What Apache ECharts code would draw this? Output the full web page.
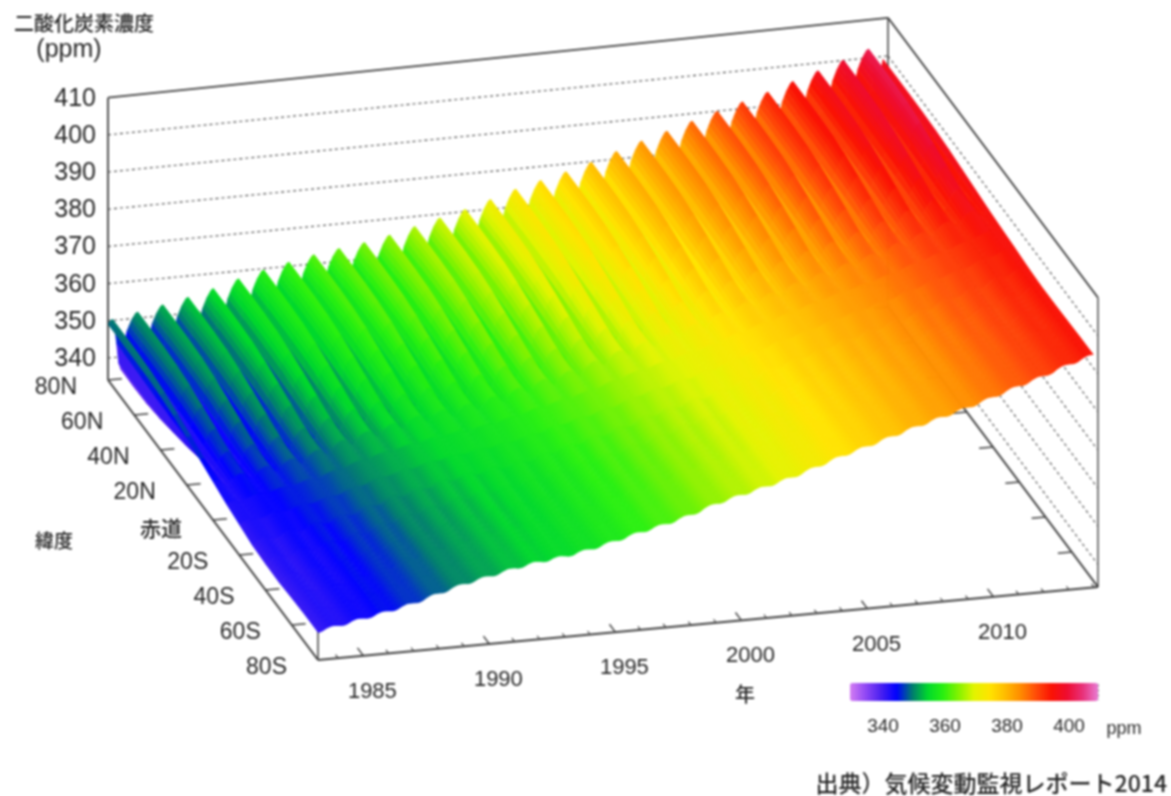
<!DOCTYPE html>
<html lang="ja">
<head>
<meta charset="utf-8">
<title>二酸化炭素濃度</title>
<script src="https://cdn.jsdelivr.net/npm/echarts@6/dist/echarts.min.js"></script>
<style>
html,body{margin:0;padding:0;background:#fff}
#c{width:1171px;height:796px;filter:blur(0.8px)}
</style>
</head>
<body>
<div id="c"></div>
<script>
// ---------- data ----------
// Baseline CO2 (ppm) at 1 January of each year, read along the 80S edge
const baseYears = [1983,1984,1985,1986,1987,1988,1989,1990,1991,1992,1993,1994,1995,1996,1997,1998,1999,2000,2001,2002,2003,2004,2005,2006,2007,2008,2009,2010,2011,2012,2013,2014];
const basePpm = [341.6,342.9,344.2,345.5,347.0,349.0,350.9,352.3,353.8,354.9,355.7,356.9,358.5,360.2,361.7,363.5,365.8,367.5,369.1,370.8,373.0,375.2,377.1,379.1,381.1,382.9,384.7,386.8,389.0,391.0,393.4,395.3];
const gridLats = [80,70,60,50,40,30,20,10,0,-10,-20,-30,-40,-50,-60,-70,-80];
// Monthly (Jan..Dec) departure from the baseline at each latitude
const lat80N = [5.2,6.4,7.2,8.0,8.2,6.5,1.5,-4.0,-5.8,-2.0,1.8,4.0];
const lat70N = [5.2,6.4,7.2,8.0,8.2,6.4,1.4,-4.2,-5.9,-2.0,1.8,4.0];
const lat60N = [5.2,6.4,7.2,7.9,8.1,6.2,1.2,-4.2,-5.7,-2.0,1.8,4.0];
const lat50N = [5.1,6.3,7.1,7.8,7.8,5.8,1.0,-3.8,-5.0,-1.9,1.8,3.9];
const lat40N = [4.9,5.9,6.7,7.3,7.1,5.0,0.9,-2.9,-4.0,-1.6,1.7,3.7];
const lat30N = [4.4,5.3,5.9,6.3,6.0,4.2,1.0,-1.8,-2.9,-1.2,1.5,3.3];
const lat20N = [3.7,4.4,4.9,5.1,4.8,3.4,1.3,-0.6,-1.6,-0.6,1.2,2.7];
const lat10N = [2.9,3.4,3.7,3.8,3.5,2.7,1.5,0.4,-0.5,-0.1,1.0,2.1];
const lat00 = [2.0,2.3,2.5,2.6,2.4,2.0,1.5,1.0,0.5,0.4,0.9,1.5];
const lat10S = [1.1,1.2,1.3,1.4,1.4,1.4,1.3,1.1,0.9,0.7,0.8,1.0];
const lat20S = [0.4,0.3,0.4,0.5,0.7,0.8,0.9,1.0,0.9,0.8,0.7,0.6];
const lat30S = [-0.2,-0.5,-0.5,-0.3,0.0,0.3,0.5,0.7,0.8,0.7,0.4,0.1];
const lat40S = [-0.5,-0.8,-0.8,-0.6,-0.3,0.0,0.3,0.5,0.6,0.5,0.2,-0.2];
const lat50S = [-0.5,-0.8,-0.9,-0.8,-0.5,-0.2,0.1,0.3,0.4,0.4,0.1,-0.2];
const lat60S = [-0.3,-0.5,-0.6,-0.6,-0.4,-0.2,0.0,0.2,0.3,0.3,0.1,-0.1];
const lat70S = [-0.2,-0.35,-0.4,-0.4,-0.3,-0.1,0.0,0.2,0.3,0.3,0.1,0.0];
const lat80S = [-0.1,-0.3,-0.4,-0.4,-0.3,-0.1,0.1,0.2,0.3,0.3,0.2,0.05];
const departures = [lat80N,lat70N,lat60N,lat50N,lat40N,lat30N,lat20N,lat10N,lat00,lat10S,lat20S,lat30S,lat40S,lat50S,lat60S,lat70S,lat80S];

const zTicks = [340,350,360,370,380,390,400,410];
const yearTickLabels = [1985,1990,1995,2000,2005,2010];
const latTicks = [80,60,40,20,0,-20,-40,-60,-80];
const latTickLabels = ['80N','60N','40N','20N','赤道','20S','40S','60S','80S'];
const legendTicks = [340,350,360,370,380,390,400,410];
const legendLabels = [340,360,380,400];
const legendColors = ['#d47df2','#9048f4','#4a20f0','#0000ff','#007a70','#00d82c','#28f010','#84f200','#e2f400','#ffe400','#ffbc00','#ff8c00','#ff4c08','#fa1204','#ee0c30','#e83078','#e87cd4'];

// ---------- oblique view of the box ----------
const yearMin = 1983.2, yearMax = 2014.15, ppmMin = 334.1, ppmMax = 410;
const legendMin = 330, legendMax = 410;
function project(year, lat, ppm) {
  const fy = (year - yearMin) / (yearMax - yearMin);
  const fl = (80 - lat) / 160;
  return [108 + 780 * fy + 210 * fl,
          380 - 73 * fy + 280 * fl - (3.72 + 0.09 * fy) * (ppm - ppmMin)];
}

// ---------- surface grid: March 1983 .. February 2014 ----------
const times = [], ppmGrid = gridLats.map(() => []);
for (let k = 0; k < 372; k++) {
  const mm = k + 2, yi = Math.floor(mm / 12), m = mm % 12;
  times.push(baseYears[yi] + (m + 0.5) / 12);
  const b = basePpm[yi] + (basePpm[yi + 1] - basePpm[yi]) * (m + 0.5) / 12;
  gridLats.forEach((_, li) => ppmGrid[li].push(b + departures[li][m]));
}
const cells = [];
for (let li = 0; li < gridLats.length - 1; li++) {
  for (let k = times.length - 2; k >= 0; k--) {
    cells.push([k, li, (ppmGrid[li][k] + ppmGrid[li][k + 1] + ppmGrid[li + 1][k] + ppmGrid[li + 1][k + 1]) / 4]);
  }
}

const LINE = '#3f3f3f', DASH = '#4a4a4a', TEXT = '#262626';
const LATIN = '"Liberation Sans", Arial, sans-serif';
const CJK = '"Noto Sans CJK JP", sans-serif';

function seg(api, a, b, stroke, width, dash) {
  const p = api.coord(a), q = api.coord(b);
  return { type: 'line', shape: { x1: p[0], y1: p[1], x2: q[0], y2: q[1] },
           style: { stroke, lineWidth: width, lineDash: dash || null }, silent: true };
}
function txt(api, pos, dx, dy, text, font, align) {
  const p = api.coord(pos);
  return { type: 'text', silent: true,
           style: { text, x: p[0] + dx, y: p[1] + dy, fill: TEXT, font, align: align || 'center', verticalAlign: 'middle' } };
}

function renderFrame(params, api) {
  const ch = [];
  const P = project;
  zTicks.forEach(z => {
    if (z < ppmMax) {
      ch.push(seg(api, P(yearMin, 80, z), P(yearMax, 80, z), DASH, 1.1, [3, 3]));
      ch.push(seg(api, P(yearMax, 80, z), P(yearMax, -80, z), DASH, 1.1, [3, 3]));
    }
  });
  ch.push(seg(api, P(yearMin, 80, ppmMin), P(yearMin, 80, ppmMax), LINE, 1.8));
  ch.push(seg(api, P(yearMin, 80, ppmMax), P(yearMax, 80, ppmMax), LINE, 1.8));
  ch.push(seg(api, P(yearMax, 80, ppmMax), P(yearMax, -80, ppmMax), LINE, 1.8));
  ch.push(seg(api, P(yearMax, 80, ppmMin), P(yearMax, 80, ppmMax), LINE, 1.5));
  ch.push(seg(api, P(yearMax, -80, ppmMin), P(yearMax, -80, ppmMax), '#6a6a6a', 1.8));
  ch.push(seg(api, P(yearMin, 80, ppmMin), P(yearMin, -80, ppmMin), LINE, 2));
  ch.push(seg(api, P(yearMax, 80, ppmMin), P(yearMax, -80, ppmMin), LINE, 2));
  ch.push(seg(api, P(yearMin, -80, ppmMin), P(yearMax, -80, ppmMin), LINE, 1.8));
  ch.push(seg(api, P(yearMin, -80, ppmMin), P(yearMin, -80, 342), LINE, 1.5));
  latTicks.forEach(l => {
    if (l > -80) {
      ch.push(seg(api, P(yearMin, l, ppmMin), P(yearMin + 0.55, l, ppmMin), LINE, 1.6));
      ch.push(seg(api, P(yearMax, l, ppmMin), P(yearMax - 0.55, l, ppmMin), LINE, 1.6));
    }
  });
  for (let y = 1984; y <= 2014; y++) {
    const major = y % 5 === 0;
    ch.push(seg(api, P(y, -80, ppmMin), P(y, major ? -75.5 : -78, ppmMin), LINE, major ? 1.4 : 1.1));
  }
  legendTicks.forEach(v => {
    const x = 850 + (v - legendMin) / (legendMax - legendMin) * 248;
    ch.push({ type: 'line', silent: true, shape: { x1: x, y1: 684, x2: x, y2: 700 },
              style: { stroke: 'rgba(30,30,30,0.65)', lineWidth: 1.2, lineDash: v === 370 || v === 410 ? [3, 2] : null } });
  });
  return { type: 'group', children: ch };
}

function renderSurface(params, api) {
  const k = api.value(0), li = api.value(1);
  const corners = [[k, li], [k + 1, li], [k + 1, li + 1], [k, li + 1]];
  const pts = corners.map(c => api.coord(project(times[c[0]], gridLats[c[1]], ppmGrid[c[1]][c[0]])));
  const color = api.visual('color');
  return { type: 'polygon', silent: true, shape: { points: pts },
           style: { fill: color, stroke: color, lineWidth: 0.7 } };
}

function renderLabels(params, api) {
  const ch = [];
  const P = project;
  zTicks.forEach(z => ch.push(txt(api, P(yearMin, 80, z), -12, 1, String(z), '25px ' + LATIN, 'right')));
  latTicks.forEach((l, i) => {
    const f = i === 4 ? '500 21px ' + CJK : '23px ' + LATIN;
    ch.push(txt(api, P(yearMin, l, ppmMin), -31, 8, latTickLabels[i], f, 'right'));
  });
  yearTickLabels.forEach(y => ch.push(txt(api, P(y, -80, ppmMin), 9, 36, String(y), '22px ' + LATIN)));
  legendLabels.forEach(v => {
    const x = 850 + (v - legendMin) / (legendMax - legendMin) * 248;
    ch.push(txt(api, [x + 2, 727], 0, 0, String(v), '19px ' + LATIN));
  });
  ch.push(txt(api, [1124, 729], 0, 0, 'ppm', '18px ' + LATIN));
  ch.push(txt(api, [84, 23], 0, 0, '二酸化炭素濃度', '500 20px ' + CJK));
  ch.push(txt(api, [69, 50], 0, 0, '(ppm)', '25px ' + LATIN));
  ch.push(txt(api, [54, 541], 0, 0, '緯度', '500 19px ' + CJK));
  ch.push(txt(api, [745, 694], 0, 0, '年', '500 20px ' + CJK));
  ch.push(txt(api, [1167, 783], 0, 0, '出典）気候変動監視レポート2014', '500 23px ' + CJK, 'right'));
  return { type: 'group', children: ch };
}

const chart = echarts.init(document.getElementById('c'), null, { renderer: 'canvas' });
chart.setOption({
  animation: false,
  backgroundColor: '#ffffff',
  tooltip: { show: false },
  grid: { left: 0, right: 0, top: 0, bottom: 0 },
  xAxis: { type: 'value', min: 0, max: 1171, show: false },
  yAxis: { type: 'value', min: 0, max: 796, inverse: true, show: false },
  visualMap: {
    type: 'continuous', seriesIndex: 1, dimension: 2,
    min: legendMin, max: legendMax, orient: 'horizontal',
    left: 850, top: 683, itemWidth: 18, itemHeight: 248, padding: 0,
    calculable: false, hoverLink: false, text: null, showLabel: false,
    inRange: { color: legendColors }, outOfRange: { color: legendColors[0] }
  },
  series: [
    { type: 'custom', name: 'frame', coordinateSystem: 'cartesian2d', silent: true, clip: false, z: 1,
      data: [[0, 0]], renderItem: renderFrame },
    { type: 'custom', name: 'surface', coordinateSystem: 'cartesian2d', silent: true, clip: false, z: 2,
      progressive: 0, encode: { x: 0, y: 1 }, data: cells, renderItem: renderSurface },
    { type: 'custom', name: 'labels', coordinateSystem: 'cartesian2d', silent: true, clip: false, z: 3,
      data: [[0, 0]], renderItem: renderLabels }
  ]
});
</script>
</body>
</html>
